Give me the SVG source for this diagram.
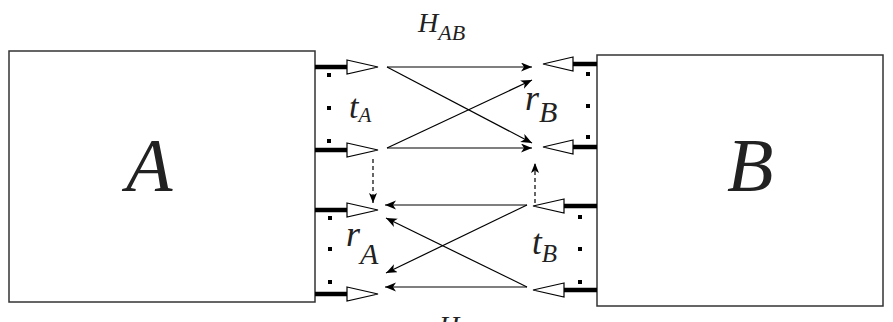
<svg xmlns="http://www.w3.org/2000/svg" width="893" height="322" viewBox="0 0 893 322">
<defs>
<marker id="ah" markerUnits="userSpaceOnUse" markerWidth="12" markerHeight="10" refX="11" refY="4.5" orient="auto">
<path d="M0,0 L11,4.5 L0,9 L3,4.5 z" fill="#000"/>
</marker>
<marker id="ahd" markerUnits="userSpaceOnUse" markerWidth="12" markerHeight="10" refX="10" refY="4" orient="auto">
<path d="M0,0 L10,4 L0,8 L2.5,4 z" fill="#000"/>
</marker>
</defs>
<style>
.box{fill:#fff;stroke:#333;stroke-width:1.5}
.feed{stroke:#000;stroke-width:4.5}
.tri{fill:#fff;stroke:#000;stroke-width:1.2}
.dot{fill:#000}
.conn{stroke:#000;stroke-width:1.2;fill:none;marker-end:url(#ah)}
.dash{stroke:#000;stroke-width:1.2;fill:none;stroke-dasharray:4,3;marker-end:url(#ahd)}
text{font-family:'Liberation Serif','DejaVu Serif',serif;font-style:italic;fill:#222}
</style>
<rect width="893" height="322" fill="#fff"/>
<g id="nodeA">
<rect class="box" x="9" y="51" width="306" height="251"/>
<text x="126" y="191" font-size="76">A</text>
</g>
<g id="nodeB">
<rect class="box" x="597" y="55" width="286" height="251"/>
<text x="727" y="191" font-size="76">B</text>
</g>
<g id="tA">
<line class="feed" x1="315" y1="67" x2="347" y2="67"/>
<polygon class="tri" points="347,60 378,67 347,74"/>
<line class="feed" x1="315" y1="150" x2="347" y2="150"/>
<polygon class="tri" points="347,143 378,150 347,157"/>
<rect class="dot" x="327" y="73" width="4" height="4"/>
<rect class="dot" x="327" y="106" width="4" height="4"/>
<rect class="dot" x="327" y="139" width="4" height="4"/>
<text x="349" y="118" font-size="34">t<tspan font-size="21" dy="4">A</tspan></text>
</g>
<g id="rA">
<line class="feed" x1="315" y1="210" x2="347" y2="210"/>
<polygon class="tri" points="347,203 378,210 347,217"/>
<line class="feed" x1="315" y1="294" x2="347" y2="294"/>
<polygon class="tri" points="347,287 378,294 347,301"/>
<rect class="dot" x="328" y="216" width="4" height="4"/>
<rect class="dot" x="328" y="247" width="4" height="4"/>
<rect class="dot" x="328" y="280" width="4" height="4"/>
<text x="346" y="246" font-size="36">r<tspan font-size="30" dy="18">A</tspan></text>
</g>
<g id="rB">
<line class="feed" x1="573" y1="64" x2="597" y2="64"/>
<polygon class="tri" points="573,57 543,64 573,71"/>
<line class="feed" x1="573" y1="147" x2="597" y2="147"/>
<polygon class="tri" points="573,140 543,147 573,154"/>
<rect class="dot" x="586" y="72" width="4" height="4"/>
<rect class="dot" x="586" y="104" width="4" height="4"/>
<rect class="dot" x="586" y="135" width="4" height="4"/>
<text x="525" y="110" font-size="36">r<tspan font-size="30" dy="12">B</tspan></text>
</g>
<g id="tB">
<line class="feed" x1="564" y1="206" x2="597" y2="206"/>
<polygon class="tri" points="564,199 533,206 564,213"/>
<line class="feed" x1="564" y1="290" x2="597" y2="290"/>
<polygon class="tri" points="564,283 533,290 564,297"/>
<rect class="dot" x="578" y="215" width="4" height="4"/>
<rect class="dot" x="578" y="247" width="4" height="4"/>
<rect class="dot" x="578" y="280" width="4" height="4"/>
<text x="532" y="254" font-size="35">t<tspan font-size="25" dy="8">B</tspan></text>
</g>
<g id="labels">
<text x="418" y="32" font-size="28">H<tspan font-size="22" dy="8">AB</tspan></text>
<text x="439" y="335" font-size="28">H<tspan font-size="22" dy="8">BA</tspan></text>
</g>
<g id="connectors">
<line class="conn" x1="387" y1="67" x2="532" y2="67"/>
<line class="conn" x1="387" y1="67" x2="532" y2="143"/>
<line class="conn" x1="387" y1="148" x2="532" y2="80"/>
<line class="conn" x1="387" y1="148" x2="532" y2="148"/>
<line class="conn" x1="527" y1="205" x2="385" y2="205"/>
<line class="conn" x1="527" y1="205" x2="386" y2="273"/>
<line class="conn" x1="527" y1="287" x2="386" y2="218"/>
<line class="conn" x1="527" y1="287" x2="385" y2="287"/>
<line class="dash" x1="373" y1="159" x2="373" y2="203"/>
<line class="dash" x1="535" y1="203" x2="535" y2="163"/>
</g>
</svg>
